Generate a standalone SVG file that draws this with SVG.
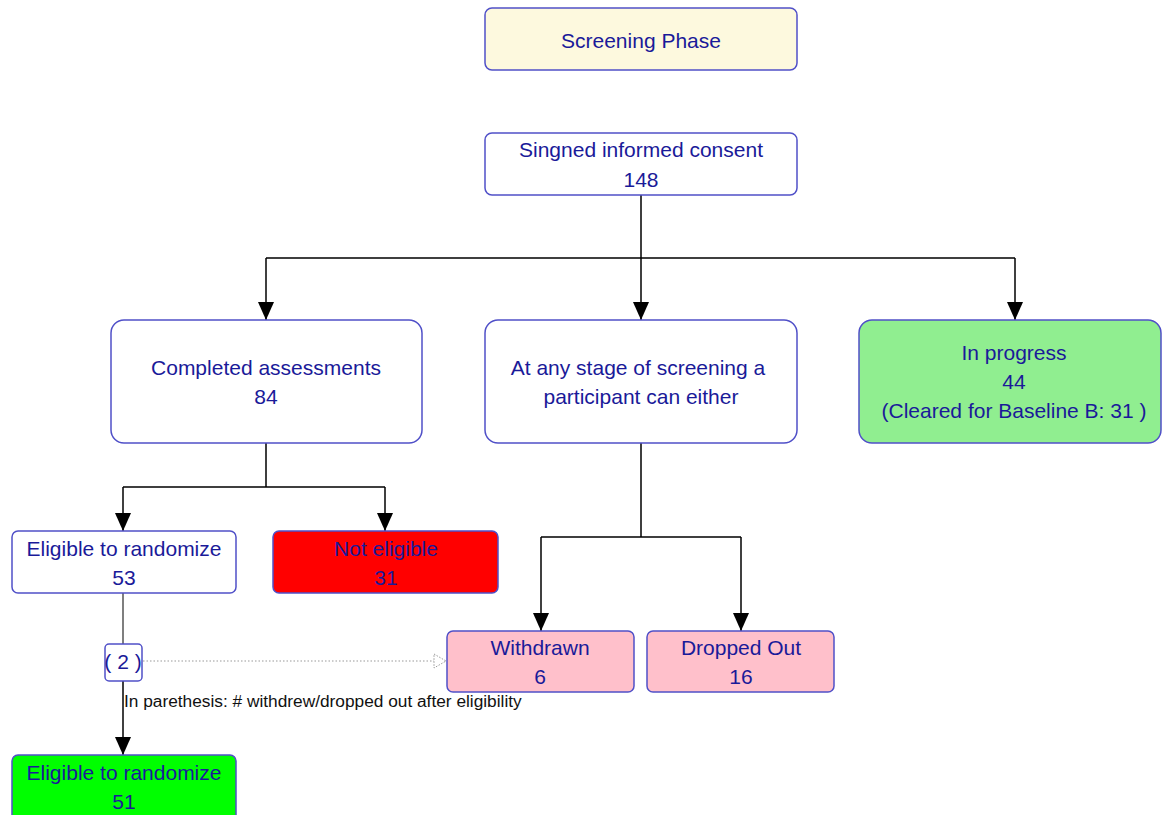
<svg xmlns="http://www.w3.org/2000/svg" width="1162" height="815" viewBox="0 0 1162 815">
  <style>
    .box { stroke: #5050c8; stroke-width: 1.5; }
    .lbl { font-family: "Liberation Sans", Arial, sans-serif; font-size: 21px; fill: #1a1a99; text-anchor: middle; }
    .note { font-family: "Liberation Sans", Arial, sans-serif; font-size: 17.3px; fill: #111; }
    .edge { stroke: #000; stroke-width: 1.5; fill: none; }
    .edge-g { stroke: #555; stroke-width: 1.5; fill: none; }
    .dots { stroke: #999; stroke-width: 1.2; stroke-dasharray: 1.5 2; fill: none; }
  </style>
  <defs>
    <!-- filled triangle pointing along the path direction -->
    <marker id="arrow" viewBox="0 0 18 16" refX="18" refY="8" markerWidth="18" markerHeight="16" markerUnits="userSpaceOnUse" orient="auto">
      <path d="M0 0 L18 8 L0 16 Z" fill="#000"/>
    </marker>
    <marker id="open" viewBox="0 0 16 16" refX="14" refY="8" markerWidth="16" markerHeight="16" markerUnits="userSpaceOnUse" orient="auto">
      <path d="M2 1 L14 8 L2 15 Z" fill="#fff" stroke="#999" stroke-width="1" stroke-dasharray="1.5 1.5"/>
    </marker>
  </defs>
  <rect width="1162" height="815" fill="#fff"/>

  <g id="connectors">
    <path class="edge" d="M641 195 V258 M266 258 H1015"/>
    <line class="edge" x1="266" y1="258" x2="266" y2="320" marker-end="url(#arrow)"/>
    <line class="edge" x1="641" y1="258" x2="641" y2="320" marker-end="url(#arrow)"/>
    <line class="edge" x1="1015" y1="258" x2="1015" y2="320" marker-end="url(#arrow)"/>
    <path class="edge" d="M266 443 V487 M123 487 H385"/>
    <line class="edge" x1="123" y1="487" x2="123" y2="531" marker-end="url(#arrow)"/>
    <line class="edge" x1="385" y1="487" x2="385" y2="531" marker-end="url(#arrow)"/>
    <path class="edge" d="M641 443 V537 M541 537 H741"/>
    <line class="edge" x1="541" y1="537" x2="541" y2="631" marker-end="url(#arrow)"/>
    <line class="edge" x1="741" y1="537" x2="741" y2="631" marker-end="url(#arrow)"/>
    <line class="edge-g" x1="123" y1="593" x2="123" y2="644"/>
    <line class="edge" x1="123" y1="681" x2="123" y2="755" marker-end="url(#arrow)"/>
    <line class="dots" x1="143" y1="661" x2="446" y2="661" marker-end="url(#open)"/>
  </g>

  <g id="screening-phase">
    <rect class="box" x="485" y="8" width="312" height="62" rx="7" fill="#fdf9de"/>
    <text class="lbl" x="641" y="48">Screening Phase</text>
  </g>

  <g id="consent">
    <rect class="box" x="485" y="133" width="312" height="62" rx="7" fill="#fff"/>
    <text class="lbl" x="641" y="157">Singned informed consent</text>
    <text class="lbl" x="641" y="187">148</text>
  </g>

  <g id="completed">
    <rect class="box" x="111" y="320" width="311" height="123" rx="13" fill="#fff"/>
    <text class="lbl" x="266" y="375">Completed assessments</text>
    <text class="lbl" x="266" y="404">84</text>
  </g>

  <g id="any-stage">
    <rect class="box" x="485" y="320" width="312" height="123" rx="13" fill="#fff"/>
    <text class="lbl" x="638" y="375">At any stage of screening a</text>
    <text class="lbl" x="641" y="404">participant can either</text>
  </g>

  <g id="in-progress">
    <rect class="box" x="859" y="320" width="302" height="123" rx="13" fill="#90ee90"/>
    <text class="lbl" x="1014" y="360">In progress</text>
    <text class="lbl" x="1014" y="389">44</text>
    <text class="lbl" x="1014" y="418">(Cleared for Baseline B: 31 )</text>
  </g>

  <g id="eligible-53">
    <rect class="box" x="12" y="531" width="224" height="62" rx="6" fill="#fff"/>
    <text class="lbl" x="124" y="556">Eligible to randomize</text>
    <text class="lbl" x="124" y="585">53</text>
  </g>

  <g id="not-eligible">
    <rect class="box" x="273" y="531" width="225" height="62" rx="6" fill="#ff0000"/>
    <text class="lbl" x="386" y="556">Not eligible</text>
    <text class="lbl" x="386" y="585">31</text>
  </g>

  <g id="withdrawn">
    <rect class="box" x="447" y="631" width="187" height="61" rx="6" fill="#ffc0cb"/>
    <text class="lbl" x="540" y="655">Withdrawn</text>
    <text class="lbl" x="540" y="684">6</text>
  </g>

  <g id="dropped-out">
    <rect class="box" x="647" y="631" width="187" height="61" rx="6" fill="#ffc0cb"/>
    <text class="lbl" x="741" y="655">Dropped Out</text>
    <text class="lbl" x="741" y="684">16</text>
  </g>

  <g id="after-eligibility">
    <rect class="box" x="105" y="644" width="37" height="37" rx="4" fill="#fff"/>
    <text class="lbl" x="123" y="669">( 2 )</text>
  </g>

  <g id="note">
    <text class="note" x="124" y="707">In parethesis: # withdrew/dropped out after eligibility</text>
  </g>

  <g id="eligible-51">
    <rect class="box" x="12" y="755" width="224" height="70" rx="6" fill="#00ff00"/>
    <text class="lbl" x="124" y="780">Eligible to randomize</text>
    <text class="lbl" x="124" y="809">51</text>
  </g>
</svg>
